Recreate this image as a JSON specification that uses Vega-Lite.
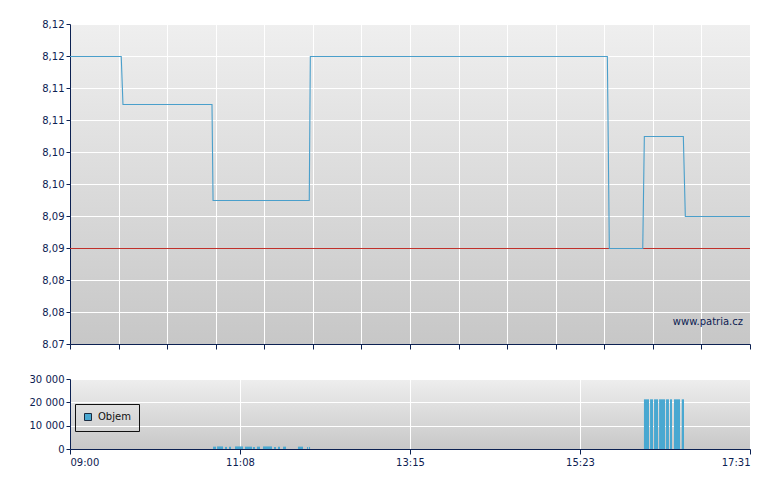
{
  "$schema": "https://vega.github.io/schema/vega-lite/v6.json",
  "padding": {"left": 29, "top": 19, "right": 0, "bottom": 0},
  "background": "#ffffff",
  "spacing": 35,
  "bounds": "flush",
  "config": {
    "font": "DejaVu Sans",
    "view": {"stroke": null},
    "axis": {
      "domainColor": "#0c2152",
      "tickColor": "#0c2152",
      "labelColor": "#0c2152",
      "labelFont": "DejaVu Sans",
      "labelFontSize": 10,
      "gridColor": "#ffffff",
      "gridWidth": 1,
      "gridOpacity": 1,
      "tickSize": 4,
      "labelPadding": 2,
      "tickCount": 30,
      "labelOverlap": false,
      "title": null
    }
  },
  "datasets": {
    "price": [
      {"t": 0, "p": 8.115},
      {"t": 38.5, "p": 8.115},
      {"t": 39.8, "p": 8.1075},
      {"t": 106.7, "p": 8.1075},
      {"t": 107.5, "p": 8.0925},
      {"t": 179.8, "p": 8.0925},
      {"t": 180.6, "p": 8.115},
      {"t": 403.8, "p": 8.115},
      {"t": 405.3, "p": 8.085},
      {"t": 430.4, "p": 8.085},
      {"t": 431.6, "p": 8.1025},
      {"t": 460.9, "p": 8.1025},
      {"t": 462.4, "p": 8.09},
      {"t": 511, "p": 8.09}
    ],
    "volume": [
      {"t0": 107.5, "t1": 109.7, "v": 1000, "s": "Objem"},
      {"t0": 110.5, "t1": 115.0, "v": 1100, "s": "Objem"},
      {"t0": 116.5, "t1": 118.0, "v": 900, "s": "Objem"},
      {"t0": 119.5, "t1": 121.0, "v": 1000, "s": "Objem"},
      {"t0": 124.0, "t1": 130.0, "v": 1100, "s": "Objem"},
      {"t0": 131.5, "t1": 136.8, "v": 1000, "s": "Objem"},
      {"t0": 137.5, "t1": 139.0, "v": 900, "s": "Objem"},
      {"t0": 140.5, "t1": 142.8, "v": 1000, "s": "Objem"},
      {"t0": 145.0, "t1": 151.8, "v": 1100, "s": "Objem"},
      {"t0": 153.3, "t1": 154.8, "v": 900, "s": "Objem"},
      {"t0": 156.3, "t1": 157.8, "v": 1000, "s": "Objem"},
      {"t0": 160.1, "t1": 162.3, "v": 1000, "s": "Objem"},
      {"t0": 171.3, "t1": 175.1, "v": 1000, "s": "Objem"},
      {"t0": 178.1, "t1": 178.9, "v": 900, "s": "Objem"},
      {"t0": 179.6, "t1": 180.4, "v": 900, "s": "Objem"},
      {"t0": 431.3, "t1": 435.1, "v": 21300, "s": "Objem"},
      {"t0": 435.9, "t1": 438.1, "v": 21300, "s": "Objem"},
      {"t0": 438.9, "t1": 441.9, "v": 21300, "s": "Objem"},
      {"t0": 442.7, "t1": 447.2, "v": 21300, "s": "Objem"},
      {"t0": 447.9, "t1": 450.1, "v": 21300, "s": "Objem"},
      {"t0": 450.9, "t1": 452.4, "v": 21300, "s": "Objem"},
      {"t0": 453.9, "t1": 458.4, "v": 21300, "s": "Objem"},
      {"t0": 459.7, "t1": 461.4, "v": 21300, "s": "Objem"}
    ]
  },
  "vconcat": [
    {
      "width": 680,
      "height": 320,
      "view": {
        "fill": {
          "gradient": "linear",
          "x1": 0, "y1": 0, "x2": 0, "y2": 1,
          "stops": [
            {"offset": 0, "color": "#efefef"},
            {"offset": 1, "color": "#c7c7c7"}
          ]
        }
      },
      "layer": [
        {
          "data": {"values": [{"ref": 8.085}]},
          "mark": {"type": "rule", "color": "#c0302a", "strokeWidth": 1, "yOffset": 0.5},
          "encoding": {
            "y": {"field": "ref", "type": "quantitative"}
          }
        },
        {
          "data": {"name": "price"},
          "mark": {"type": "line", "color": "#4a9fcb", "strokeWidth": 1.1, "clip": true, "yOffset": 0.5},
          "encoding": {
            "x": {
              "field": "t", "type": "quantitative",
              "scale": {"domain": [0, 511], "nice": false, "zero": false},
              "axis": {
                "values": [0, 36.5, 73, 109.5, 146, 182.5, 219, 255.5, 292, 328.5, 365, 401.5, 438, 474.5, 511],
                "labels": false,
                "grid": true,
                "tickSize": 5
              }
            },
            "y": {
              "field": "p", "type": "quantitative",
              "scale": {"domain": [8.07, 8.12], "nice": false, "zero": false},
              "axis": {
                "values": [8.07, 8.075, 8.08, 8.085, 8.09, 8.095, 8.1, 8.105, 8.11, 8.115, 8.12],
                "grid": true,
                "labelExpr": "datum.value < 8.0701 ? '8.07' : replace(format(datum.value + 0.0001, '.2f'), '.', ',')"
              }
            }
          }
        },
        {
          "data": {"values": [{"label": "www.patria.cz", "t": 511, "p": 8.07}]},
          "mark": {"type": "text", "align": "right", "baseline": "alphabetic", "dx": -7, "dy": -19, "fontSize": 10, "font": "DejaVu Sans", "color": "#0c2152"},
          "encoding": {
            "x": {"field": "t", "type": "quantitative"},
            "y": {"field": "p", "type": "quantitative"},
            "text": {"field": "label"}
          }
        }
      ],
      "resolve": {"scale": {"y": "shared", "x": "shared"}}
    },
    {
      "width": 680,
      "height": 70,
      "view": {
        "fill": {
          "gradient": "linear",
          "x1": 0, "y1": 0, "x2": 0, "y2": 1,
          "stops": [
            {"offset": 0, "color": "#eeeeee"},
            {"offset": 1, "color": "#c8c8c8"}
          ]
        }
      },
      "data": {"name": "volume"},
      "mark": {"type": "rect"},
      "encoding": {
        "x": {
          "field": "t0", "type": "quantitative",
          "scale": {"domain": [0, 511], "nice": false, "zero": false},
          "axis": {
            "values": [0, 127.75, 255.5, 383.25, 511],
            "grid": true,
            "tickSize": 5,
            "labelPadding": 3,
            "labelExpr": "datum.value < 1 ? '09:00' : datum.value < 200 ? '11:08' : datum.value < 300 ? '13:15' : datum.value < 400 ? '15:23' : '17:31'"
          }
        },
        "x2": {"field": "t1"},
        "y": {
          "field": "v", "type": "quantitative",
          "scale": {"domain": [0, 30000], "nice": false},
          "axis": {
            "values": [0, 10000, 20000, 30000],
            "grid": true,
            "labelExpr": "replace(format(datum.value, ','), ',', ' ')"
          }
        },
        "color": {
          "field": "s", "type": "nominal",
          "scale": {"range": ["#49a8d1"]},
          "legend": {
            "title": null,
            "orient": "none",
            "legendX": 5,
            "legendY": 380,
            "strokeColor": "#111111",
            "padding": 8,
            "symbolType": "square",
            "symbolSize": 49,
            "symbolStrokeColor": "#1a2a40",
            "symbolStrokeWidth": 1,
            "symbolOpacity": 1,
            "labelFont": "DejaVu Sans",
            "labelFontSize": 10,
            "labelColor": "#111111",
            "labelOffset": 5
          }
        }
      }
    }
  ],
  "resolve": {"scale": {"x": "independent", "y": "independent"}}
}
